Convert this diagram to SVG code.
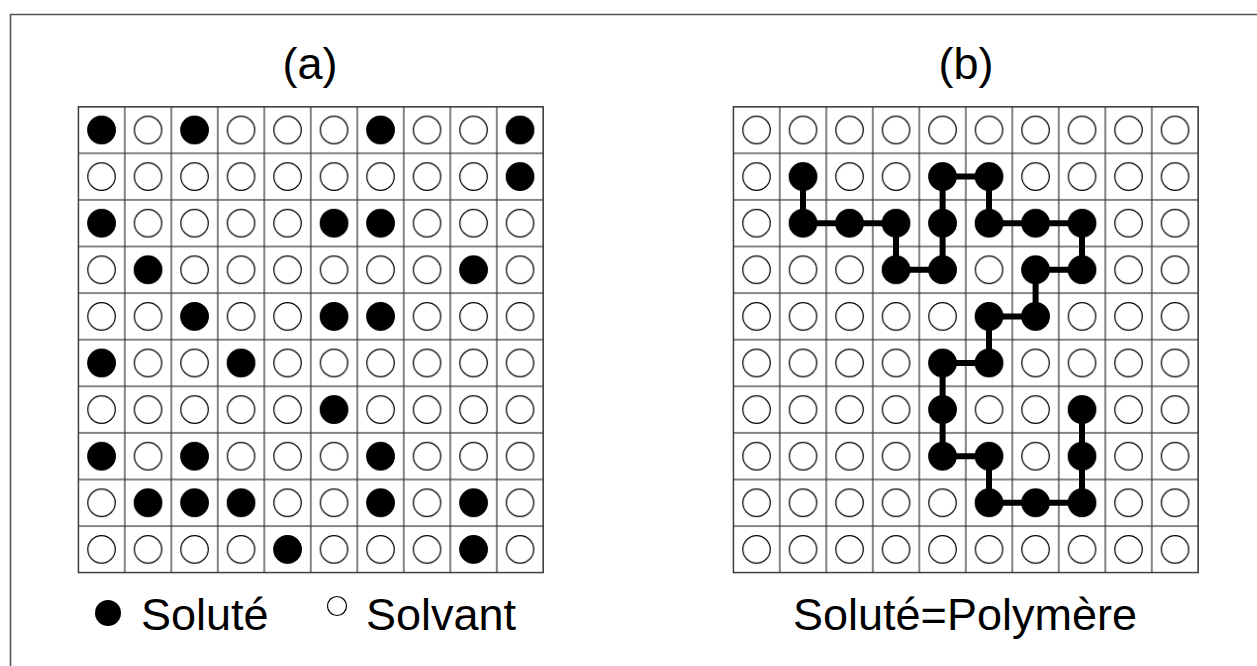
<svg xmlns="http://www.w3.org/2000/svg" width="1257" height="666" viewBox="0 0 1257 666">
<style>
.t{font-family:"Liberation Sans",Arial,sans-serif;font-size:45px;fill:#000}
.g{stroke:#333;stroke-width:1.2;fill:none}
.o{fill:#fff;stroke:#000;stroke-width:1.2}
.f{fill:#000}
.c{stroke:#000;stroke-width:6;fill:none;stroke-linejoin:round}
</style>
<defs>
<pattern id="cells" x="78.3" y="106.7" width="46.5" height="46.6" patternUnits="userSpaceOnUse">
<rect x="0" y="0" width="46.5" height="46.6" fill="#fff" stroke="#333" stroke-width="1.2"/>
<circle cx="23.25" cy="23.3" r="13.7" class="o"/>
</pattern>
<pattern id="cellsb" x="733.3" y="106.7" width="46.5" height="46.6" patternUnits="userSpaceOnUse">
<rect x="0" y="0" width="46.5" height="46.6" fill="#fff" stroke="#333" stroke-width="1.2"/>
<circle cx="23.25" cy="23.3" r="13.7" class="o"/>
</pattern>
</defs>
<rect width="1257" height="666" fill="#fff"/>
<path d="M10.5 666 V14.5 H1257" fill="none" stroke="#555" stroke-width="1.6"/>
<g id="panel-a">
<text class="t" x="310" y="79" text-anchor="middle">(a)</text>
<rect x="78.3" y="106.7" width="465" height="466" fill="url(#cells)"/>
<rect x="78.3" y="106.7" width="465" height="466" class="g"/>
<g class="f">
<circle cx="101.6" cy="130" r="14"/><circle cx="194.6" cy="130" r="14"/><circle cx="380.6" cy="130" r="14"/><circle cx="520" cy="130" r="14"/>
<circle cx="520" cy="176.6" r="14"/>
<circle cx="101.6" cy="223.2" r="14"/><circle cx="334" cy="223.2" r="14"/><circle cx="380.6" cy="223.2" r="14"/>
<circle cx="148" cy="269.8" r="14"/><circle cx="473.6" cy="269.8" r="14"/>
<circle cx="194.6" cy="316.4" r="14"/><circle cx="334" cy="316.4" r="14"/><circle cx="380.6" cy="316.4" r="14"/>
<circle cx="101.6" cy="363" r="14"/><circle cx="241" cy="363" r="14"/>
<circle cx="334" cy="409.6" r="14"/>
<circle cx="101.6" cy="456.2" r="14"/><circle cx="194.6" cy="456.2" r="14"/><circle cx="380.6" cy="456.2" r="14"/>
<circle cx="148" cy="502.8" r="14"/><circle cx="194.6" cy="502.8" r="14"/><circle cx="241" cy="502.8" r="14"/><circle cx="380.6" cy="502.8" r="14"/><circle cx="473.6" cy="502.8" r="14"/>
<circle cx="287.6" cy="549.4" r="14"/><circle cx="473.6" cy="549.4" r="14"/>
</g>
</g>
<g id="legend-a">
<circle cx="108" cy="613" r="13" class="f"/>
<text class="t" x="141" y="630">Soluté</text>
<circle cx="337" cy="606" r="9.5" class="o"/>
<text class="t" x="366" y="630">Solvant</text>
</g>
<g id="panel-b">
<text class="t" x="966" y="79" text-anchor="middle">(b)</text>
<rect x="733.3" y="106.7" width="465" height="466" fill="url(#cellsb)"/>
<rect x="733.3" y="106.7" width="465" height="466" class="g"/>
</g>
<g id="connectors">
<path class="c" d="M803 176.6 V223.2 H896 V269.8 H942.6 V176.6 H989 V223.2 H1082 V269.8 H1035.6 V316.4 H989 V363 H942.6 V456.2 H989 V502.8 H1082 V409.6"/>
</g>
<g id="polymer" class="f">
<circle cx="803" cy="176.6" r="14"/><circle cx="942.6" cy="176.6" r="14"/><circle cx="989" cy="176.6" r="14"/>
<circle cx="803" cy="223.2" r="14"/><circle cx="849.6" cy="223.2" r="14"/><circle cx="896" cy="223.2" r="14"/><circle cx="942.6" cy="223.2" r="14"/><circle cx="989" cy="223.2" r="14"/><circle cx="1035.6" cy="223.2" r="14"/><circle cx="1082" cy="223.2" r="14"/>
<circle cx="896" cy="269.8" r="14"/><circle cx="942.6" cy="269.8" r="14"/><circle cx="1035.6" cy="269.8" r="14"/><circle cx="1082" cy="269.8" r="14"/>
<circle cx="989" cy="316.4" r="14"/><circle cx="1035.6" cy="316.4" r="14"/>
<circle cx="942.6" cy="363" r="14"/><circle cx="989" cy="363" r="14"/>
<circle cx="942.6" cy="409.6" r="14"/><circle cx="1082" cy="409.6" r="14"/>
<circle cx="942.6" cy="456.2" r="14"/><circle cx="989" cy="456.2" r="14"/><circle cx="1082" cy="456.2" r="14"/>
<circle cx="989" cy="502.8" r="14"/><circle cx="1035.6" cy="502.8" r="14"/><circle cx="1082" cy="502.8" r="14"/>
</g>
<g id="legend-b">
<text class="t" x="965" y="630" text-anchor="middle">Soluté=Polymère</text>
</g>
</svg>
